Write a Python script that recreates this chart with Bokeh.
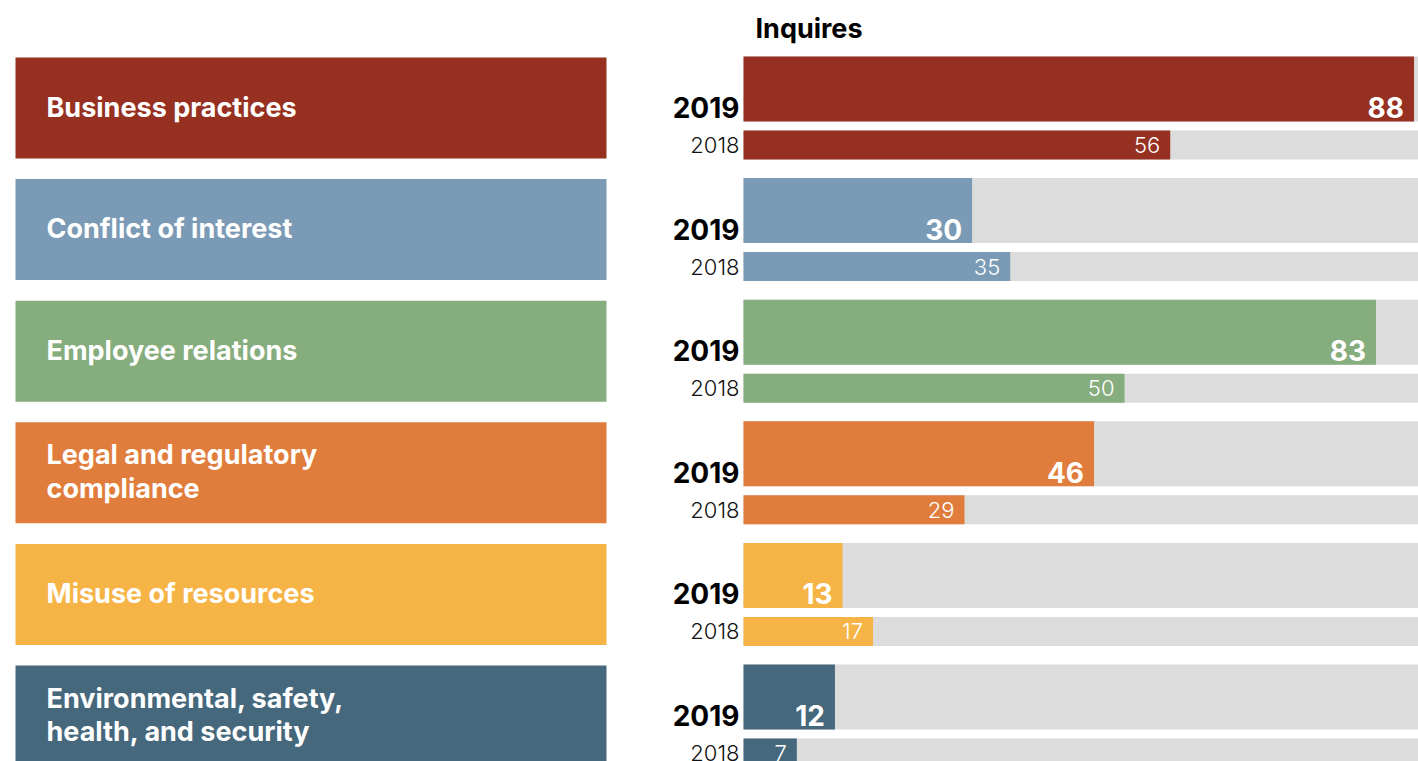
from bokeh.plotting import figure
from bokeh.layouts import row
from bokeh.models import Range1d, ColumnDataSource
from bokeh.core.properties import value
from bokeh.embed import file_html
from bokeh.resources import INLINE

# ---- data ----
categories = [
    "Business practices",
    "Conflict of interest",
    "Employee relations",
    "Legal and regulatory\ncompliance",
    "Misuse of resources",
    "Environmental, safety,\nhealth, and security",
]
inquiries_2019 = [88, 30, 83, 46, 13, 12]
inquiries_2018 = [56, 35, 50, 29, 17, 7]
colors = ["#963122", "#7B9AB5", "#86AD7D", "#E07D3C", "#F6B447", "#46687C"]
years = ["2019", "2018"]
title_text = "Inquires"

# ---- layout constants (pixels) ----
W_LEFT, W_RIGHT, H = 660, 758, 761
GROUP_TOP, PITCH = 56, 121.6
BAR19_H, GAP, BAR18_H = 65, 9, 29
PX_PER_UNIT = 7.62
BAR_X0 = 83
FONT = "Inter"

n = len(categories)
idx = list(range(n))
top19 = [GROUP_TOP + PITCH * i for i in idx]
bot19 = [t + BAR19_H for t in top19]
top18 = [b + GAP for b in bot19]
bot18 = [t + BAR18_H for t in top18]


def base_fig(width, x_range):
    p = figure(width=width, height=H, x_range=x_range, y_range=Range1d(H, 0),
               toolbar_location=None, output_backend="svg", min_border=0,
               outline_line_color=None, background_fill_color="white",
               border_fill_color="white")
    p.axis.visible = False
    p.grid.visible = False
    return p


# ---- left: category boxes ----
left = base_fig(W_LEFT, Range1d(0, W_LEFT))
src_l = ColumnDataSource(dict(
    l=[15] * n, r=[606] * n, t=[t + 1 for t in top19], b=[b - 1 for b in bot18],
    c=colors, cat=categories, ym=[(t + b) / 2 - 1 for t, b in zip(top19, bot18)],
    x=[46] * n,
))
left.quad(left="l", right="r", top="t", bottom="b", fill_color="c",
          line_color=None, source=src_l)
left.text(x="x", y="ym", text="cat", source=src_l, text_color="white",
          text_font=value(FONT), text_font_style="bold", text_font_size="27px",
          text_baseline="middle", text_align="left", text_line_height=1.03)

# ---- right: bars ----
xr = Range1d(-BAR_X0 / PX_PER_UNIT, (W_RIGHT - BAR_X0) / PX_PER_UNIT)
right = base_fig(W_RIGHT, xr)
src = ColumnDataSource(dict(
    v19=inquiries_2019, v18=inquiries_2018, c=colors,
    t19=top19, b19=bot19, t18=top18, b18=bot18,
    m19=[b - 14 for b in bot19], m18=[(t + b) / 2 for t, b in zip(top18, bot18)],
    zero=[0] * n, full=[200] * n,
    s19=[str(v) for v in inquiries_2019], s18=[str(v) for v in inquiries_2018],
    y19=[years[0]] * n, y18=[years[1]] * n,
))
# gray backgrounds
right.quad(left="zero", right="full", top="t19", bottom="b19", source=src,
           fill_color="#DCDCDC", line_color=None)
right.quad(left="zero", right="full", top="t18", bottom="b18", source=src,
           fill_color="#DCDCDC", line_color=None)
# values
right.quad(left="zero", right="v19", top="t19", bottom="b19", source=src,
           fill_color="c", line_color=None)
right.quad(left="zero", right="v18", top="t18", bottom="b18", source=src,
           fill_color="c", line_color=None)
# year labels
right.text(x="zero", y="m19", text="y19", source=src, x_offset=-4,
           text_align="right", text_baseline="middle", text_color="black",
           text_font=value(FONT), text_font_style="bold", text_font_size="28px")
right.text(x="zero", y="m18", text="y18", source=src, x_offset=-4,
           text_align="right", text_baseline="middle", text_color="#111111",
           text_font=value("Inter Light"), text_font_size="22px")
# value labels
right.text(x="v19", y="m19", text="s19", source=src, x_offset=-10,
           text_align="right", text_baseline="middle", text_color="white",
           text_font=value(FONT), text_font_style="bold", text_font_size="28px")
right.text(x="v18", y="m18", text="s18", source=src, x_offset=-10,
           text_align="right", text_baseline="middle", text_color="white",
           text_font=value("Inter Light"), text_font_size="22px")
# header
right.text(x=[0], y=[28], text=[title_text], x_offset=12,
           text_align="left", text_baseline="middle", text_color="black",
           text_font=value(FONT), text_font_style="bold", text_font_size="27px")

layout = row(left, right, spacing=0)
open("out.html", "w").write(file_html(layout, INLINE))
